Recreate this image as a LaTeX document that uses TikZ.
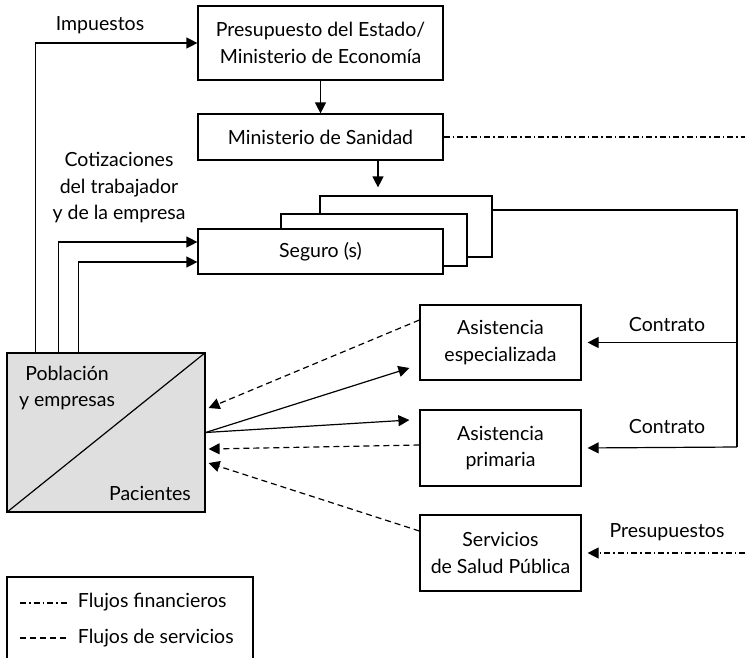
\documentclass[tikz,border=0pt]{standalone}
\usepackage{fontspec}
\setmainfont{Lato}
\usetikzlibrary{arrows.meta}

\begin{document}
\begin{tikzpicture}[x=1pt,y=-1pt,
    font=\fontsize{19.5}{26.5}\selectfont,
    line width=1.2pt,
    box/.style={draw,fill=white,inner sep=0pt,align=center},
    flow/.style={-{Triangle[length=11pt,width=11pt]}},
    service/.style={dash pattern=on 6pt off 4pt},
    finance/.style={dash pattern=on 6pt off 3pt on 1.5pt off 3pt}]
  \useasboundingbox (0,0) rectangle (745,657);

  % Boxes
  \node[box,minimum width=245pt,minimum height=74pt] (pres) at (320.5,43)
    {Presupuesto del Estado/\\Ministerio de Econom\'ia};
  \node[box,minimum width=245pt,minimum height=46pt] (minis) at (320.5,137)
    {Ministerio de Sanidad};
  \node[box,minimum width=172pt,minimum height=61pt] (seg3) at (406,226.5) {};
  \node[box,minimum width=186pt,minimum height=52pt] (seg2) at (374,240) {};
  \node[box,minimum width=245pt,minimum height=45pt] (seg) at (320.5,251.5)
    {Seguro (s)};
  \node[box,minimum width=161pt,minimum height=75pt] (esp) at (500.5,342.5)
    {Asistencia\\especializada};
  \node[box,minimum width=161pt,minimum height=76pt] (prim) at (500.5,448)
    {Asistencia\\primaria};
  \node[box,minimum width=161pt,minimum height=76pt] (salud) at (500.5,553)
    {Servicios\\de Salud P\'ublica};
  \node[draw,fill=gray!25,minimum width=198pt,minimum height=159pt,inner sep=0pt]
    (pob) at (106,432.5) {};
  \draw (pob.south west) -- (pob.north east);
  \node[align=center] (pobl) at (67,388) {Poblaci\'on\\y empresas};
  \node (pac) at (150,493) {Pacientes};

  % Financial flows
  \draw[flow] ([xshift=29pt]pob.north west) |- (pres.west);
  \draw[flow] ([xshift=52pt]pob.north west) |- ([yshift=9.5pt]seg.west);
  \draw[flow] ([xshift=72pt]pob.north west) |- ([yshift=-10.5pt]seg.west);
  \draw[flow] (pres.south) -- (minis.north);
  \draw[flow,shorten >=8pt] ([xshift=57.5pt]minis.south)
    -- ([xshift=57.5pt]minis.south |- seg3.north);
  \coordinate (rimfin) at (745,137);
  \draw[finance] (minis.east) -- (rimfin);
  \coordinate (cb) at (737,447);
  \draw ([yshift=16.5pt]seg3.east) -| (cb);
  \draw[flow,shorten >=6pt] (esp.east -| cb) -- (esp.east);
  \draw[flow,shorten >=6pt] (cb) -- (prim.east);
  \coordinate (presfin) at (745,553);
  \draw[finance,flow,shorten >=6pt] (presfin) -- (salud.east);

  % Patient flows
  \draw[flow] (pob.east) -- ([xshift=-10pt,yshift=-25.5pt]esp.west);
  \draw[flow] (pob.east) -- ([xshift=-10pt,yshift=28pt]prim.west);
  \draw[service,flow] ([yshift=22.5pt]esp.west) -- ([xshift=3pt,yshift=24.5pt]pob.east);
  \draw[service,flow] ([yshift=3pt]prim.west) -- ([xshift=3pt,yshift=-16.5pt]pob.east);
  \draw[service,flow] ([yshift=22pt]salud.west) -- ([xshift=3pt,yshift=-30.5pt]pob.east);

  % Labels
  \node (imp) at (100,25) {Impuestos};
  \node[align=center] (cot) at (119,188)
    {Cotizaciones\\del trabajador\\y de la empresa};
  \node (con1) at (667,325) {Contrato};
  \node (con2) at (667,427) {Contrato};
  \node (presu) at (667,532) {Presupuestos};

  % Legend
  \draw (7,660) -- (7,577) -- (253,577) -- (253,660);
  \draw[finance] (20,603) -- (68,603);
  \draw[service] (20,638) -- (68,638);
  \node[anchor=west] (legfin) at (74,602) {Flujos financieros};
  \node[anchor=west] (legser) at (74,638) {Flujos de servicios};
\end{tikzpicture}
\end{document}
